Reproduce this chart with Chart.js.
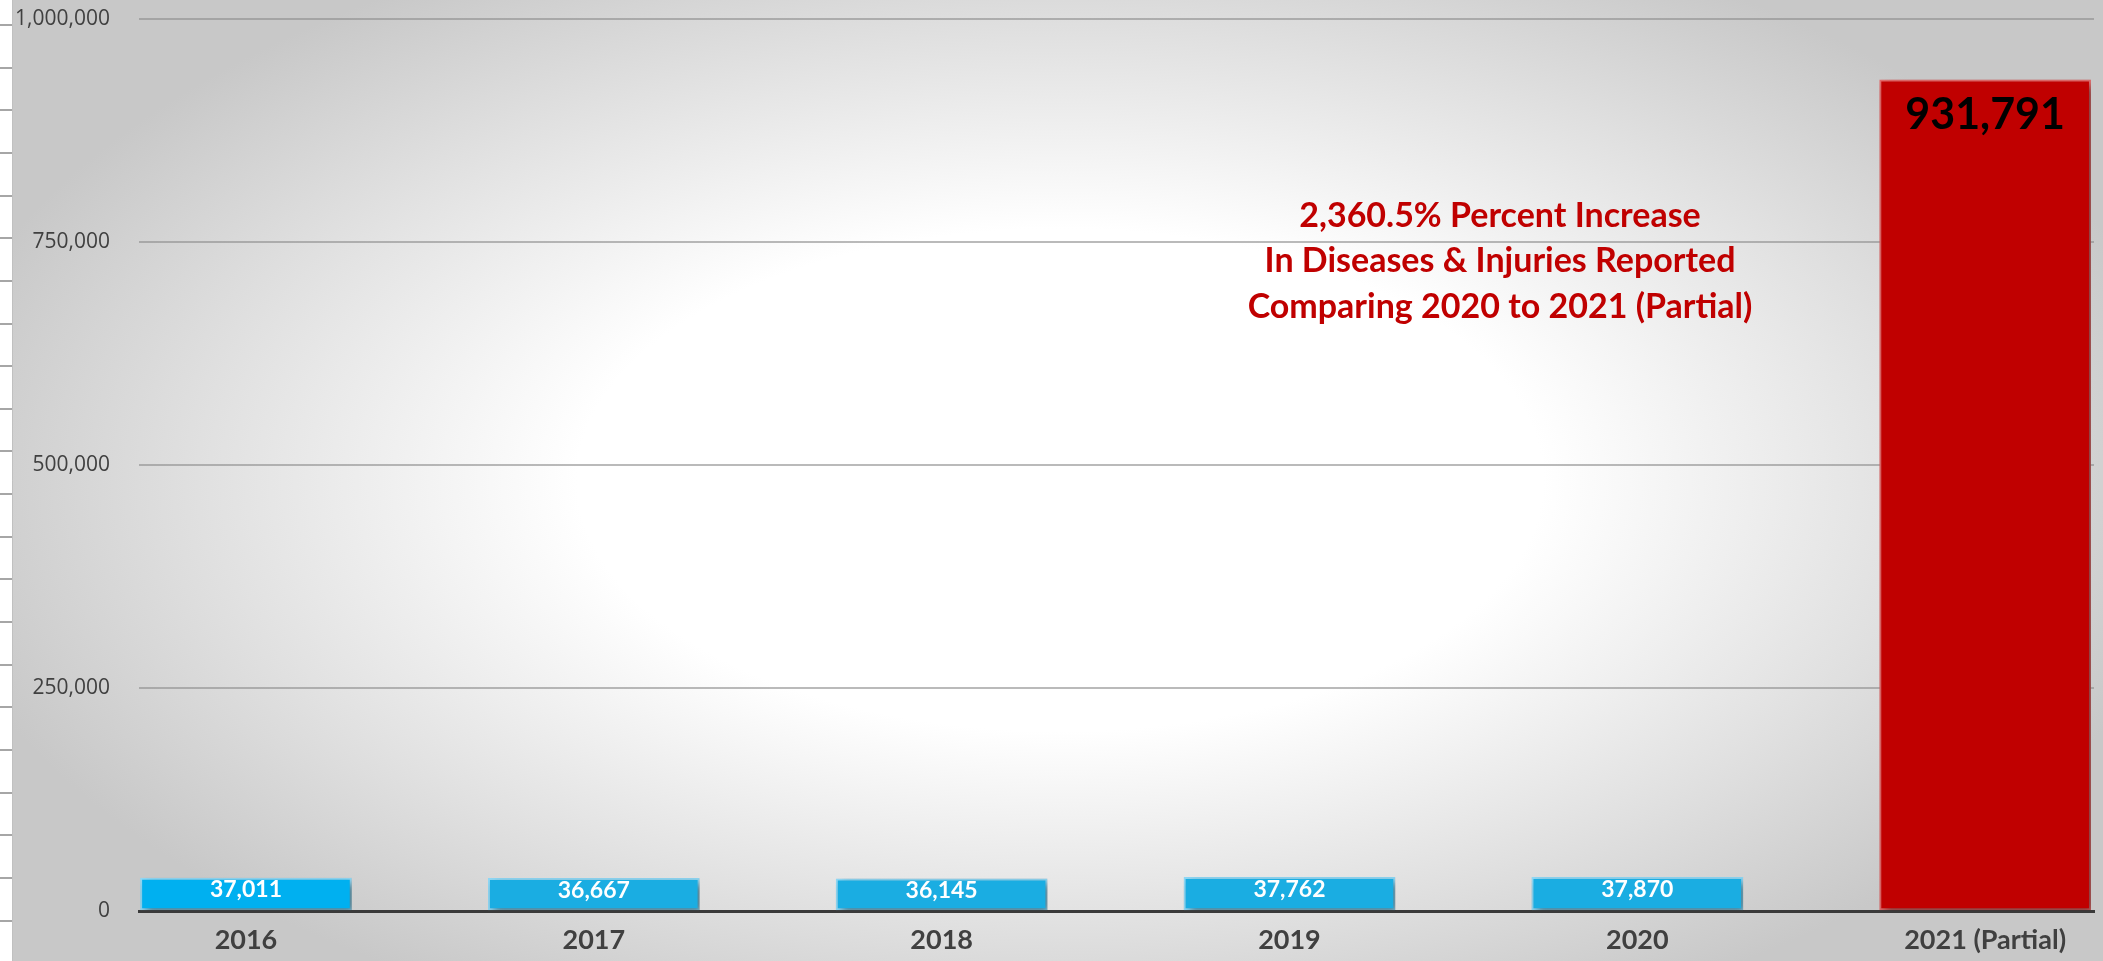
<!DOCTYPE html>
<html>
<head>
<meta charset="utf-8">
<script src="https://cdn.jsdelivr.net/npm/chart.js@4.4.0/dist/chart.umd.min.js"></script>
<style>
  html, body { margin: 0; padding: 0; background: #fff; }
  #wrap { width: 2103px; height: 961px; position: relative; }
</style>
</head>
<body>
<div id="wrap"><canvas id="diseaseChart"></canvas></div>
<script>
// values
const years = ['2016', '2017', '2018', '2019', '2020', '2021 (Partial)'];
const reported = [37011, 36667, 36145, 37762, 37870, 931791];
const barColors = ['#00b0f0', '#1aade2', '#1aade2', '#1aade2', '#1aade2', '#c00000'];
const barBorders = ['#8fd8f5', '#8fd8f5', '#8fd8f5', '#8fd8f5', '#8fd8f5', '#e46a6a'];
const noteLines = [
  '2,360.5% Percent Increase',
  'In Diseases & Injuries Reported',
  'Comparing 2020 to 2021 (Partial)'
];

const fmt = v => v.toLocaleString('en-US');

// grey radial background plus the little ruler strip on the left
const backdrop = {
  id: 'backdrop',
  beforeDraw(chart) {
    const ctx = chart.ctx;
    const w = chart.width, h = chart.height;
    ctx.save();
    ctx.fillStyle = '#ffffff';
    ctx.fillRect(0, 0, w, h);
    ctx.save();
    ctx.translate(1060, 480);
    ctx.scale(1, 0.52);
    const g = ctx.createRadialGradient(0, 0, 0, 0, 0, 1150);
    g.addColorStop(0, '#ffffff');
    g.addColorStop(0.42, '#ffffff');
    g.addColorStop(0.75, '#e0e0e0');
    g.addColorStop(1, '#c8c8c8');
    ctx.fillStyle = g;
    ctx.fillRect(-1060 + 12, -480 / 0.52, w, h / 0.52 + 10);
    ctx.restore();
    ctx.fillStyle = '#ffffff';
    ctx.fillRect(0, 0, 12, h);
    ctx.strokeStyle = '#c0c0c0';
    ctx.lineWidth = 1;
    ctx.beginPath();
    ctx.moveTo(12.5, 0);
    ctx.lineTo(12.5, h);
    ctx.stroke();
    ctx.strokeStyle = '#a6a6a6';
    ctx.lineWidth = 2;
    for (let y = 25; y < h; y += 42.65) {
      ctx.beginPath();
      ctx.moveTo(0, Math.round(y));
      ctx.lineTo(12, Math.round(y));
      ctx.stroke();
    }
    ctx.restore();
  }
};

const barShadow = {
  id: 'barShadow',
  beforeDatasetsDraw(chart) {
    const ctx = chart.ctx;
    ctx.save();
    ctx.shadowColor = 'rgba(0,0,0,0.45)';
    ctx.shadowBlur = 8;
    ctx.shadowOffsetX = 4;
    ctx.shadowOffsetY = 4;
  },
  afterDatasetsDraw(chart) {
    chart.ctx.restore();
  }
};

const valueLabels = {
  id: 'valueLabels',
  afterDatasetsDraw(chart) {
    const ctx = chart.ctx;
    const meta = chart.getDatasetMeta(0);
    ctx.save();
    ctx.textAlign = 'center';
    ctx.textBaseline = 'middle';
    meta.data.forEach((bar, i) => {
      const big = i === reported.length - 1;
      if (big) {
        ctx.font = 'bold 43px Lato';
        ctx.fillStyle = '#000000';
        ctx.fillText(fmt(reported[i]), bar.x, bar.y + 35);
      } else {
        ctx.font = 'bold 23px Lato';
        ctx.fillStyle = '#ffffff';
        ctx.fillText(fmt(reported[i]), bar.x, bar.y + 12);
      }
    });
    ctx.restore();
  }
};

const note = {
  id: 'note',
  afterDraw(chart) {
    const ctx = chart.ctx;
    ctx.save();
    ctx.font = 'bold 34px Lato';
    ctx.fillStyle = '#c00000';
    ctx.textAlign = 'center';
    ctx.textBaseline = 'middle';
    noteLines.forEach((t, i) => ctx.fillText(t, 1500, 216 + i * 45.5));
    ctx.restore();
  }
};

const ctx = document.getElementById('diseaseChart').getContext('2d');
new Chart(ctx, {
  type: 'bar',
  data: {
    datasets: [{
      label: 'Diseases & Injuries Reported',
      data: reported.map((v, i) => ({ x: i, y: v })),
      backgroundColor: barColors,
      borderColor: barBorders,
      borderWidth: 2,
      borderSkipped: false,
      barThickness: 211
    }]
  },
  options: {
    responsive: true,
    maintainAspectRatio: false,
    animation: false,
    layout: { padding: { top: 19, right: 9, bottom: 0, left: 12 } },
    plugins: {
      legend: { display: false },
      tooltip: { enabled: false }
    },
    scales: {
      x: {
        type: 'linear',
        offset: false,
        min: -0.3075,
        max: 5.313,
        grid: { display: false, drawTicks: false, offset: false },
        border: { display: true, color: '#3a3a3a', width: 3 },
        ticks: {
          stepSize: 1,
          includeBounds: false,
          autoSkip: false,
          maxRotation: 0,
          padding: 13,
          color: '#404040',
          font: { family: 'Lato', size: 27, weight: 'bold' },
          callback: v => (Number.isInteger(v) && years[v] !== undefined) ? years[v] : ''
        },
        afterFit: s => { s.height = 50; s.paddingLeft = 0; s.paddingRight = 0; }
      },
      y: {
        min: 0,
        max: 1000000,
        grid: { color: 'rgba(140,140,140,0.6)', lineWidth: 2, drawTicks: false },
        border: { display: false },
        ticks: {
          stepSize: 250000,
          padding: 29,
          color: '#404040',
          font: { family: 'Open Sans', size: 21 },
          callback: v => fmt(v)
        },
        afterFit: s => { s.width = 127; s.paddingTop = 0; s.paddingBottom = 0; }
      }
    }
  },
  plugins: [backdrop, barShadow, valueLabels, note]
});
</script>
</body>
</html>
